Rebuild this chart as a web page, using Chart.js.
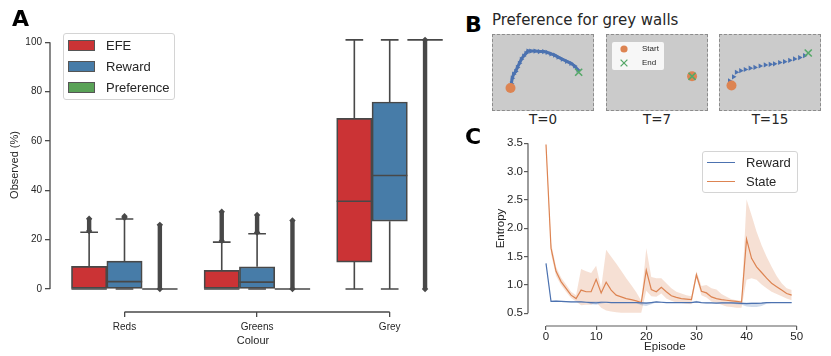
<!DOCTYPE html>
<html>
<head>
<meta charset="utf-8">
<script src="https://cdn.jsdelivr.net/npm/chart.js@4.4.1/dist/chart.umd.min.js"></script>
<style>
body{margin:0;background:#fff;}
#fig{position:relative;width:831px;height:356px;overflow:hidden;font-family:"Liberation Sans",Arial,sans-serif;color:#262626;}
.letter{position:absolute;font-family:"DejaVu Sans";font-weight:bold;font-size:22px;line-height:22px;color:#000;}
.arena{position:absolute;top:34px;box-sizing:border-box;width:102px;height:77px;border:1px dashed #8c8c8c;background:#cbcbcb;}
.arena canvas{position:absolute;left:0;top:0;}
.tlabel{position:absolute;top:113px;width:102px;text-align:center;font-family:"DejaVu Sans";font-size:13.5px;line-height:13.5px;color:#262626;}
.legend{position:absolute;box-sizing:border-box;background:#fff;border:1px solid #d4d4d4;border-radius:3px;}
.row{position:absolute;left:0;right:0;height:21px;display:flex;align-items:center;font-size:13px;white-space:nowrap;}
</style>
</head>
<body>
<div id="fig">

<canvas id="chartA" width="460" height="356" style="position:absolute;left:0;top:0"></canvas>
<div class="letter" style="left:12px;top:8px">A</div>
<div class="legend" id="legendA" style="left:63px;top:33px;width:112px;height:67px"></div>

<div class="letter" style="left:465px;top:14px">B</div>
<div style="position:absolute;left:492px;top:13px;font-family:'DejaVu Sans';font-size:15px;line-height:15px;white-space:nowrap">Preference for grey walls</div>
<div class="arena" style="left:492px"><canvas id="arena0" width="100" height="75"></canvas></div>
<div class="arena" style="left:606px"><canvas id="arena1" width="100" height="75"></canvas></div>
<div class="arena" style="left:719px"><canvas id="arena2" width="100" height="75"></canvas></div>
<div class="tlabel" id="t0" style="left:492px"></div>
<div class="tlabel" id="t1" style="left:606px"></div>
<div class="tlabel" id="t2" style="left:719px"></div>
<div id="legendB" style="position:absolute;left:612px;top:42px;width:52px;height:28px;background:rgba(255,255,255,0.85);border-radius:2px;font-size:8px"></div>

<canvas id="chartC" width="371" height="236" style="position:absolute;left:460px;top:120px"></canvas>
<div class="letter" style="left:465px;top:126px">C</div>
<div class="legend" id="legendC" style="left:702px;top:151px;width:96px;height:42px"></div>

</div>
<script>
// =========================
// DATA PANEL A (box plot)
// =========================

let colourGroups = ["Reds","Greens","Grey"];
let agents = ["EFE","Reward","Preference"];
let agentColours = ["#cb3335","#477ca8","#59a257"];
let yTicksA = [0,20,40,60,80,100];

// index [agent][colour group]
let boxQ1 = [[0,0,10.9],[0,0,27.5],[0,0,101]];
let boxMedian = [[0,0,35.6],[3,2.8,46],[0,0,101]];
let boxQ3 = [[9.2,7.6,69.2],[11.3,9,75.8],[0,0,101]];
let whiskerLow = [[0,0,0],[0,0,0],[0,0,101]];
let whiskerHigh = [[23,19,101],[28.4,22.4,101],[0,0,101]];
let flierLow = [[23.5,19.5,null],[28.9,22.9,null],[0,0,0]];
let flierHigh = [[28.5,31.3,null],[29.5,30,null],[26,27.8,101]];


// =========================
// DATA PANEL B (trajectories)
// =========================

let runTitles = ["T=0","T=7","T=15"];
let startX = [12.7,91.3,5.7];
let startY = [19,33.3,22];
let endX = [92,91.3,95];
let endY = [38.3,33.3,62];
let pathX = [
[13.7,14.7,16.3,18.7,20.7,23,25.3,28,30.7,33,36.3,41.3,46.3,51.3,55.3,59.7,64,68,73,78,83,87.3,91.3],
[],
[3.4,8,11.4,16.4,21.7,27.4,33,39,45,50.7,55.7,61.7,67.4,73.4,79,85,90.7]
];
let pathY = [
[24.3,31,36,39.3,44.3,49.3,54.3,58.3,61.7,64.3,64.3,64.3,63.7,63.7,62.7,61,59.3,57,54.3,51.7,49.3,46,41],
[],
[27.7,32.7,38.3,40.3,41.7,43.3,44.3,46,47.3,48,48.7,50.3,51.3,53,54.7,56.3,58.7]
];


// =========================
// DATA PANEL C (entropy)
// =========================

let episodes = [];
for(let i=0;i<50;i++){ episodes.push(i); }

let xTicksC = [0,10,20,30,40,50];
let yTicksC = [0.5,1.0,1.5,2.0,2.5,3.0,3.5];

let rewardMean = [1.38,0.71,0.715,0.71,0.705,0.70,0.70,0.70,0.695,0.69,
0.685,0.695,0.695,0.69,0.69,0.69,0.69,0.69,0.69,0.685,
0.68,0.69,0.70,0.695,0.69,0.69,0.69,0.69,0.69,0.69,
0.70,0.69,0.685,0.685,0.68,0.685,0.685,0.685,0.68,0.675,
0.67,0.675,0.675,0.68,0.69,0.69,0.69,0.69,0.69,0.69];
let rewardLow = [1.37,0.70,0.705,0.70,0.695,0.69,0.69,0.69,0.685,0.66,
0.65,0.67,0.685,0.68,0.68,0.68,0.68,0.68,0.68,0.64,
0.63,0.66,0.69,0.685,0.68,0.68,0.68,0.68,0.68,0.68,
0.68,0.68,0.675,0.675,0.67,0.675,0.675,0.67,0.66,0.65,
0.62,0.61,0.61,0.63,0.67,0.68,0.68,0.68,0.68,0.68];
let rewardHigh = [1.39,0.72,0.725,0.72,0.715,0.71,0.71,0.71,0.705,0.71,
0.71,0.71,0.705,0.70,0.70,0.70,0.70,0.70,0.70,0.70,
0.70,0.70,0.71,0.705,0.70,0.70,0.70,0.70,0.70,0.70,
0.72,0.70,0.695,0.695,0.69,0.695,0.695,0.695,0.70,0.69,
0.69,0.69,0.69,0.69,0.70,0.70,0.70,0.70,0.70,0.70];

let stateMean = [3.48,1.65,1.24,1.06,0.94,0.82,0.76,0.91,0.88,0.88,
1.10,0.86,1.05,0.91,0.82,0.79,0.76,0.74,0.72,0.69,
1.26,0.92,0.88,0.96,0.88,0.81,0.78,0.76,0.75,0.74,
1.18,0.89,0.86,0.79,0.76,0.74,0.73,0.72,0.71,0.70,
1.81,1.47,1.32,1.22,1.12,1.03,0.97,0.91,0.85,0.82];
let stateLow = [3.44,1.55,1.16,1.0,0.88,0.77,0.71,0.64,0.65,0.65,
0.70,0.60,0.55,0.53,0.52,0.51,0.51,0.51,0.51,0.51,
0.90,0.80,0.79,0.85,0.76,0.72,0.69,0.68,0.67,0.66,
1.12,0.82,0.78,0.71,0.68,0.65,0.62,0.61,0.60,0.60,
1.09,1.12,1.09,1.01,0.94,0.88,0.84,0.80,0.76,0.73];
let stateHigh = [3.52,1.75,1.32,1.13,1.01,0.88,0.82,1.28,1.24,1.21,
1.34,0.95,1.62,1.50,1.38,1.25,1.12,1.0,0.87,0.72,
1.65,1.14,1.12,1.12,1.03,0.94,0.88,0.85,0.82,0.80,
1.24,0.98,1.0,0.94,0.92,0.84,0.79,0.75,0.73,0.72,
2.51,2.23,1.94,1.70,1.50,1.32,1.16,1.03,0.94,0.91];

let seriesC = ["Reward","State"];
let seriesColoursC = ["#4c72b0","#dd8452"];


// =========================
// PLUGIN: SPINE (trimmed axis lines)
// =========================

let spinePlugin = {
id:"spines",
afterDraw:function(chart,args,opts){
let ctx = chart.ctx;
let a = chart.chartArea;
let sx = chart.scales.x;
let sy = chart.scales.y;
ctx.save();
ctx.strokeStyle = opts.color;
ctx.lineWidth = opts.width;
ctx.beginPath();
ctx.moveTo(a.left, sy.getPixelForValue(opts.y[0]));
ctx.lineTo(a.left, sy.getPixelForValue(opts.y[1]));
ctx.moveTo(sx.getPixelForValue(opts.x[0]), a.bottom);
ctx.lineTo(sx.getPixelForValue(opts.x[1]), a.bottom);
ctx.stroke();
ctx.restore();
}
};

Chart.defaults.font.family = '"Liberation Sans", Arial, sans-serif';
Chart.defaults.color = "#262626";


// =========================
// GRAFIK A
// =========================

let gray = "#484848";
let boxW = 0.8/agents.length;
let datasetsA = [];

agents.forEach(function(name,a){

let boxes=[], lines=[], fliers=[];

colourGroups.forEach(function(grp,g){
let c = g + (a-1)*boxW;
boxes.push({x:c, y:[boxQ1[a][g], boxQ3[a][g]]});
// median
lines.push({x:c-boxW/2,y:boxMedian[a][g]},{x:c+boxW/2,y:boxMedian[a][g]},{x:c,y:null});
// whiskers
lines.push({x:c,y:whiskerLow[a][g]},{x:c,y:boxQ1[a][g]},{x:c,y:null});
lines.push({x:c,y:boxQ3[a][g]},{x:c,y:whiskerHigh[a][g]},{x:c,y:null});
// caps
lines.push({x:c-boxW/4,y:whiskerLow[a][g]},{x:c+boxW/4,y:whiskerLow[a][g]},{x:c,y:null});
lines.push({x:c-boxW/4,y:whiskerHigh[a][g]},{x:c+boxW/4,y:whiskerHigh[a][g]},{x:c,y:null});
// outliers
if(flierLow[a][g]!==null){
fliers.push({x:c,y:flierLow[a][g]},{x:c,y:flierHigh[a][g]},{x:c,y:null});
}
});

datasetsA.push({type:"bar", label:name, data:boxes, backgroundColor:agentColours[a],
borderColor:gray, borderWidth:1.7, borderSkipped:false, grouped:false, barThickness:30, order:3});
datasetsA.push({type:"line", data:lines, showLine:true, borderColor:gray, borderWidth:1.6,
pointRadius:0, tension:0, spanGaps:false, order:2});
datasetsA.push({type:"line", data:fliers, showLine:true, borderColor:gray, borderWidth:4.4,
borderCapStyle:"butt", pointStyle:"rectRot", pointRadius:3.2, pointBackgroundColor:gray,
pointBorderWidth:0, tension:0, spanGaps:false, order:1});

});

let chartA = new Chart(document.getElementById("chartA"),{
type:"scatter",
data:{datasets:datasetsA},
options:{
responsive:false,
animation:false,
layout:{padding:{top:18,right:1.25,left:0,bottom:0}},
plugins:{legend:{display:false},tooltip:{enabled:false},spines:{x:[0,2],y:[0,100],color:"#4a4a4a",width:1.3}},
scales:{
x:{type:"linear",min:-0.5618,max:2.5,offset:false,
afterBuildTicks:function(s){ s.ticks = colourGroups.map(function(n,i){ return {value:i}; }); },
afterFit:function(s){ s.height = 44; },
ticks:{callback:function(v){ return colourGroups[v]; },font:{size:10},padding:4,maxRotation:0,autoSkip:false},
grid:{offset:false,drawOnChartArea:false,tickLength:5,color:"#4a4a4a",lineWidth:1.3},
border:{display:false},
title:{display:true,text:"Colour",font:{size:11},padding:{top:0,bottom:8.4}}
},
y:{type:"linear",min:-9.32,max:109.85,
afterBuildTicks:function(s){ s.ticks = yTicksA.map(function(v){ return {value:v}; }); },
afterFit:function(s){ s.width = 50; },
ticks:{font:{size:10},padding:3},
grid:{drawOnChartArea:false,tickLength:5,color:"#4a4a4a",lineWidth:1.3},
border:{display:false},
title:{display:true,text:"Observed (%)",font:{size:11},padding:{top:8.4,bottom:0}}
}
}
},
plugins:[spinePlugin]
});

// lebar kotak mengikuti skala x
let boxPx = chartA.scales.x.getPixelForValue(boxW) - chartA.scales.x.getPixelForValue(0);
chartA.data.datasets.forEach(function(d){ if(d.type==="bar"){ d.barThickness = boxPx; } });
chartA.update("none");

// legend A
let legendA = document.getElementById("legendA");
agents.forEach(function(name,a){
legendA.innerHTML += `
<div class="row" style="top:${0.8+a*21.2}px">
<span style="display:inline-block;box-sizing:border-box;margin-left:4px;width:27px;height:11px;background:${agentColours[a]};border:1px solid #555"></span>
<span style="margin-left:11px">${name}</span>
</div>`;
});


// =========================
// GRAFIK B
// =========================

runTitles.forEach(function(title,i){

document.getElementById("t"+i).textContent = title;

let path = pathX[i].map(function(x,k){ return {x:x,y:pathY[i][k]}; });

new Chart(document.getElementById("arena"+i),{
type:"scatter",
data:{datasets:[
{data:[{x:endX[i],y:endY[i]}],pointStyle:"crossRot",pointRadius:5,pointBorderColor:"#55a868",pointBorderWidth:1.6,clip:false},
{data:[{x:startX[i],y:startY[i]}],pointStyle:"circle",pointRadius:5,pointBackgroundColor:"#dd8452",pointBorderWidth:0,clip:false},
{data:path,pointStyle:"triangle",rotation:90,pointRadius:3,pointBackgroundColor:"#4c72b0",
pointBorderWidth:0,showLine:i===0,borderColor:"#4c72b0",borderWidth:3,clip:false}
]},
options:{
responsive:false,
animation:false,
layout:{padding:0},
plugins:{legend:{display:false},tooltip:{enabled:false}},
scales:{x:{display:false,min:0,max:101},y:{display:false,min:0,max:76}}
}
});

});

// legend B (Start / End)
document.getElementById("legendB").innerHTML = `
<svg width="52" height="28" style="position:absolute;left:0;top:0">
<circle cx="12" cy="7" r="3.6" fill="#dd8452"/>
<path d="M8.6 17.6 L15.4 24.4 M15.4 17.6 L8.6 24.4" stroke="#55a868" stroke-width="1.3"/>
</svg>
<div style="position:absolute;left:30px;top:2px;line-height:10px">Start</div>
<div style="position:absolute;left:30px;top:16px;line-height:10px">End</div>`;


// =========================
// GRAFIK C
// =========================

let chartC = new Chart(document.getElementById("chartC"),{
type:"line",
data:{labels:episodes,datasets:[
{label:seriesC[0],data:rewardMean,borderColor:seriesColoursC[0],borderWidth:1.2,pointRadius:0,fill:false,order:1},
{label:seriesC[1],data:stateMean,borderColor:seriesColoursC[1],borderWidth:1.2,pointRadius:0,fill:false,order:1},
{data:rewardHigh,borderWidth:0,pointRadius:0,fill:"+1",backgroundColor:"rgba(76,114,176,0.25)",order:2},
{data:rewardLow,borderWidth:0,pointRadius:0,fill:false,order:2},
{data:stateHigh,borderWidth:0,pointRadius:0,fill:"+1",backgroundColor:"rgba(221,132,82,0.25)",order:2},
{data:stateLow,borderWidth:0,pointRadius:0,fill:false,order:2}
]},
options:{
responsive:false,
animation:false,
layout:{padding:{top:11,right:29.3,left:0,bottom:0}},
plugins:{legend:{display:false},tooltip:{enabled:false},spines:{x:[0,50],y:[0.5,3.5],color:"#5a5a5a",width:1.2}},
scales:{
x:{type:"linear",min:-3.59,max:51,
afterBuildTicks:function(s){ s.ticks = xTicksC.map(function(v){ return {value:v}; }); },
afterFit:function(s){ s.height = 30; },
ticks:{font:{size:11.5},padding:0,maxRotation:0,autoSkip:false},
grid:{drawOnChartArea:false,tickLength:4,color:"#5a5a5a",lineWidth:1.2},
border:{display:false},
title:{display:true,text:"Episode",font:{size:11.5},padding:{top:0,bottom:2.4}}
},
y:{type:"linear",min:0.276,max:3.717,
afterBuildTicks:function(s){ s.ticks = yTicksC.map(function(v){ return {value:v}; }); },
afterFit:function(s){ s.width = 68; },
ticks:{font:{size:11.5},padding:1,callback:function(v){ return v.toFixed(1); }},
grid:{drawOnChartArea:false,tickLength:4,color:"#5a5a5a",lineWidth:1.2},
border:{display:false},
title:{display:true,text:"Entropy",font:{size:11.5},padding:{top:34.4,bottom:0}}
}
}
},
plugins:[spinePlugin]
});

// legend C
let legendC = document.getElementById("legendC");
seriesC.forEach(function(name,i){
legendC.innerHTML += `
<div class="row" style="top:${i*18.8}px">
<span style="display:inline-block;margin-left:4px;width:28px;height:1.5px;background:${seriesColoursC[i]}"></span>
<span style="margin-left:11px">${name}</span>
</div>`;
});
</script>
</body>
</html>
